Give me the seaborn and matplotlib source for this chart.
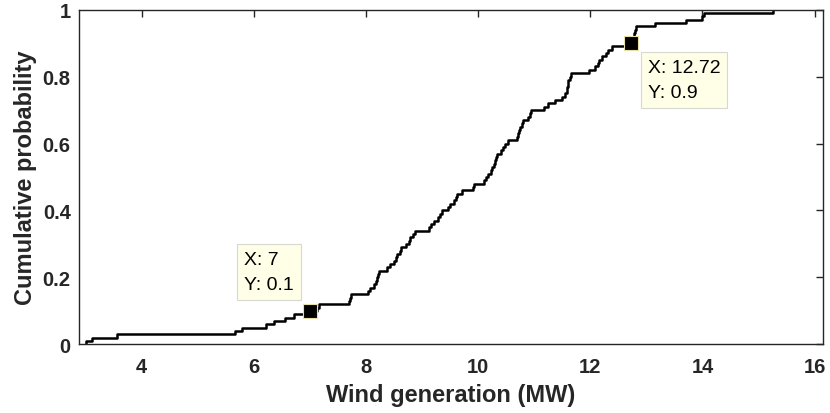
import numpy as np
import pandas as pd
import matplotlib
matplotlib.use("Agg")
import matplotlib.pyplot as plt
import seaborn as sns

# sorted wind generation samples (MW), 100 values
wind_mw = [
    3.00, 3.12, 3.55, 5.66, 5.78, 6.22, 6.36, 6.56, 6.72, 7.00,
    7.12, 7.16, 7.70, 7.71, 7.73, 8.04, 8.07, 8.14, 8.17, 8.19,
    8.21, 8.23, 8.37, 8.43, 8.50, 8.53, 8.56, 8.60, 8.62, 8.72,
    8.76, 8.79, 8.84, 8.87, 9.12, 9.15, 9.22, 9.28, 9.31, 9.36,
    9.46, 9.49, 9.56, 9.60, 9.63, 9.71, 9.90, 9.92, 10.10, 10.14,
    10.18, 10.22, 10.25, 10.28, 10.30, 10.32, 10.34, 10.40, 10.44, 10.48,
    10.54, 10.70, 10.71, 10.72, 10.74, 10.78, 10.80, 10.88, 10.92, 10.95,
    11.17, 11.25, 11.37, 11.49, 11.55, 11.58, 11.59, 11.60, 11.61, 11.63,
    11.65, 11.97, 12.08, 12.13, 12.16, 12.20, 12.28, 12.32, 12.38, 12.72,
    12.76, 12.77, 12.78, 12.79, 12.82, 13.15, 13.70, 14.00, 14.02, 15.26,
]

# data tips shown on the curve
tip_x = [7, 12.72]
tip_y = [0.1, 0.9]

x_ticks = [4, 6, 8, 10, 12, 14, 16]
y_ticks = [0, 0.2, 0.4, 0.6, 0.8, 1]
y_tick_labels = ["0", "0.2", "0.4", "0.6", "0.8", "1"]

sns.set_style("white")
plt.rcParams['font.family'] = ['Liberation Sans', 'DejaVu Sans']

dark = '#262626'
df = pd.DataFrame({'wind': wind_mw})

fig = plt.figure(figsize=(8.3, 4.14), dpi=100)
ax = fig.add_axes([0.0952, 0.1655, 0.8964, 0.8091])

sns.ecdfplot(data=df, x='wind', ax=ax, color='black', linewidth=1.8)

# data tip markers
ax.plot(tip_x, tip_y, linestyle='none', marker='s', markersize=10,
        markerfacecolor='black', markeredgecolor='#e6dfa8', markeredgewidth=0.8,
        zorder=5)

# data tip boxes: first one up-left of the point, second one down-right
offsets = [(-66, 18, 'left', 'bottom'), (17, -16, 'left', 'top')]
for (tx, ty), (dx, dy, ha, va) in zip(zip(tip_x, tip_y), offsets):
    ax.annotate(f"X: {tx:g}\nY: {ty:g}", xy=(tx, ty), xytext=(dx, dy),
                textcoords='offset pixels', ha=ha, va=va, fontsize=14,
                color='black', linespacing=1.6,
                bbox=dict(boxstyle='square,pad=0.35', facecolor='#ffffe8',
                          edgecolor='#d8d8d0', linewidth=0.8),
                zorder=6)

ax.set_xlim(2.88, 16.15)
ax.set_ylim(0, 1)
ax.set_xticks(x_ticks)
ax.set_yticks(y_ticks)
ax.set_yticklabels(y_tick_labels)

ax.tick_params(direction='in', length=5, width=1, color=dark,
               top=True, right=True, labelsize=14.5, labelcolor=dark)
ax.tick_params(axis='x', pad=9)
ax.tick_params(axis='y', pad=6)
for lbl in ax.get_xticklabels() + ax.get_yticklabels():
    lbl.set_fontweight('bold')
for sp in ax.spines.values():
    sp.set_visible(True)
    sp.set_color(dark)
    sp.set_linewidth(1.0)

ax.set_xlabel("Wind generation (MW)", fontsize=17, fontweight='bold', color=dark, labelpad=5)
ax.set_ylabel("Cumulative probability", fontsize=17, fontweight='bold', color=dark, labelpad=4)

fig.savefig("out.png", dpi=100)
